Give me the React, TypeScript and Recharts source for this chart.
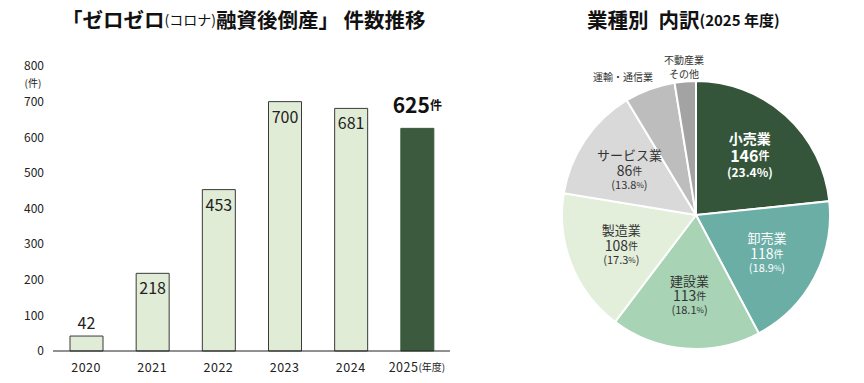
import React from 'react';
import { BarChart, Bar, XAxis, YAxis, Cell, LabelList, PieChart, Pie } from 'recharts';

const years = ['2020', '2021', '2022', '2023', '2024', '2025'];
const counts = [42, 218, 453, 700, 681, 625];
const yTicks = [0, 100, 200, 300, 400, 500, 600, 700, 800];

const industries = ['小売業', '卸売業', '建設業', '製造業', 'サービス業', '運輸・通信業', '不動産業その他'];
const industryCounts = [146, 118, 113, 108, 86, 38, 16];
const industryColors = ['#34553a', '#6aaea6', '#a8d3b5', '#e3eedb', '#d9d9d9', '#bdbdbd', '#a3a3a3'];
const industryText = ['#ffffff', '#ffffff', '#333333', '#333333', '#333333', '#333333', '#333333'];

const FONT = '"Noto Sans CJK JP", "Noto Sans", sans-serif';

const barData = years.map((y, i) => ({ year: y, count: counts[i] }));
const pieData = industries.map((n, i) => ({ name: n, value: industryCounts[i] }));
const total = industryCounts.reduce((a, b) => a + b, 0);

const BarLabel = (props: any) => {
  const { x, y, width, value, index } = props;
  const cx = x + width / 2;
  if (index === counts.length - 1) {
    return (
      <text x={cx} y={y - 24} textAnchor="middle" dominantBaseline="central" fontFamily={FONT} fill="#111">
        <tspan fontSize={21} fontWeight={700}>{value}</tspan>
        <tspan fontSize={12} fontWeight={700}>件</tspan>
      </text>
    );
  }
  const inside = value > 100;
  return (
    <text x={cx} y={inside ? y + 14 : y - 14} textAnchor="middle" dominantBaseline="central" fontFamily={FONT} fontSize={16} fill="#222">
      {value}
    </text>
  );
};

const XTick = (props: any) => {
  const { x, y, payload, index } = props;
  return (
    <text x={x} y={y + 13} textAnchor="middle" dominantBaseline="central" fontFamily={FONT} fontSize={12.5} fill="#222" letterSpacing={0.5}>
      {payload.value}
      {index === years.length - 1 ? <tspan fontSize={10} letterSpacing={0}>(年度)</tspan> : null}
    </text>
  );
};

const RAD = Math.PI / 180;

const PieLabel = (props: any) => {
  const { cx, cy, midAngle, outerRadius, index, value, name } = props;
  const pct = ((value / total) * 100).toFixed(1);
  const color = industryText[index];
  if (index >= 5) {
    const r = outerRadius + 14;
    const px = cx + r * Math.cos(-midAngle * RAD);
    const py = cy + r * Math.sin(-midAngle * RAD);
    if (index === 5) {
      return (
        <text x={px + 8} y={py} textAnchor="end" dominantBaseline="central" fontFamily={FONT} fontSize={10} fill={color}>
          {name}
        </text>
      );
    }
    return (
      <g>
        <text x={px} y={py - 8} textAnchor="middle" dominantBaseline="central" fontFamily={FONT} fontSize={10} fill={color}>{name.slice(0, 4)}</text>
        <text x={px} y={py + 6} textAnchor="middle" dominantBaseline="central" fontFamily={FONT} fontSize={10} fill={color}>{name.slice(4)}</text>
      </g>
    );
  }
  const r = outerRadius * 0.6;
  const px = cx + r * Math.cos(-midAngle * RAD);
  const py = cy + r * Math.sin(-midAngle * RAD);
  if (index === 0) {
    return (
      <g fontFamily={FONT} fill={color} fontWeight={700}>
        <text x={px} y={py - 17} textAnchor="middle" dominantBaseline="central" fontSize={14}>{name}</text>
        <text x={px} y={py} textAnchor="middle" dominantBaseline="central" fontSize={16}>{value}<tspan fontSize={11}>件</tspan></text>
        <text x={px} y={py + 16} textAnchor="middle" dominantBaseline="central" fontSize={12}>({pct}%)</text>
      </g>
    );
  }
  return (
    <g fontFamily={FONT} fill={color}>
      <text x={px} y={py - 15} textAnchor="middle" dominantBaseline="central" fontSize={13}>{name}</text>
      <text x={px} y={py} textAnchor="middle" dominantBaseline="central" fontSize={14}>{value}<tspan fontSize={10}>件</tspan></text>
      <text x={px} y={py + 14} textAnchor="middle" dominantBaseline="central" fontSize={11}>({pct}<tspan fontSize={8}>%</tspan>)</text>
    </g>
  );
};

export default function App() {
  return (
    <div style={{ position: 'absolute', left: 0, top: 0, width: 864, height: 383, background: '#fff', fontFamily: FONT }}>
      <svg width={864} height={40} style={{ position: 'absolute', left: 0, top: 0 }}>
        <text x={62} y={19} dominantBaseline="central" fontFamily={FONT} fontWeight={700} fontSize={20.5} fill="#111">
          「ゼロゼロ<tspan fontSize={14} fontWeight={400}>(コロナ)</tspan>融資後倒産」 件数推移
        </text>
        <text x={587} y={19} dominantBaseline="central" fontFamily={FONT} fontWeight={700} fontSize={20.5} fill="#111">
          業種別<tspan dx={10}>内訳</tspan><tspan fontSize={15}>(2025 年度)</tspan>
        </text>
      </svg>
      <div style={{ position: 'absolute', left: 0, top: 0 }}>
        <BarChart width={460} height={383} data={barData} margin={{ top: 66, right: 10, bottom: 2, left: 0 }} barSize={33}>
          <YAxis
            width={53}
            domain={[0, 800]}
            ticks={yTicks}
            axisLine={false}
            tickLine={false}
            tickSize={0}
            tickMargin={9}
            tick={{ fontSize: 12, fill: '#222', fontFamily: FONT }}
            interval={0}
          />
          <XAxis
            dataKey="year"
            axisLine={{ stroke: '#222', strokeWidth: 1.2 }}
            tickLine={false}
            tickSize={0}
            tick={<XTick />}
            interval={0}
          />
          <Bar dataKey="count" isAnimationActive={false} stroke="#3a3a3a" strokeWidth={1}>
            {barData.map((d, i) => (
              <Cell key={d.year} fill={i === barData.length - 1 ? '#3b5a3e' : '#e0ecd6'} stroke={i === barData.length - 1 ? '#3b5a3e' : '#3a3a3a'} />
            ))}
            <LabelList dataKey="count" content={<BarLabel />} />
          </Bar>
        </BarChart>
        <svg width={60} height={20} style={{ position: 'absolute', left: 0, top: 73 }}>
          <text x={33} y={9} textAnchor="middle" dominantBaseline="central" fontFamily={FONT} fontSize={10} fill="#222">(件)</text>
        </svg>
      </div>
      <div style={{ position: 'absolute', left: 0, top: 0 }}>
        <PieChart width={864} height={383} margin={{ top: 0, right: 0, bottom: 0, left: 0 }}>
          <Pie
            data={pieData}
            dataKey="value"
            nameKey="name"
            cx={696}
            cy={215}
            outerRadius={134}
            startAngle={90}
            endAngle={-270}
            stroke="#ffffff"
            strokeWidth={2}
            label={<PieLabel />}
            labelLine={false}
            isAnimationActive={false}
          >
            {pieData.map((d, i) => (
              <Cell key={d.name} fill={industryColors[i]} />
            ))}
          </Pie>
        </PieChart>
      </div>
    </div>
  );
}
